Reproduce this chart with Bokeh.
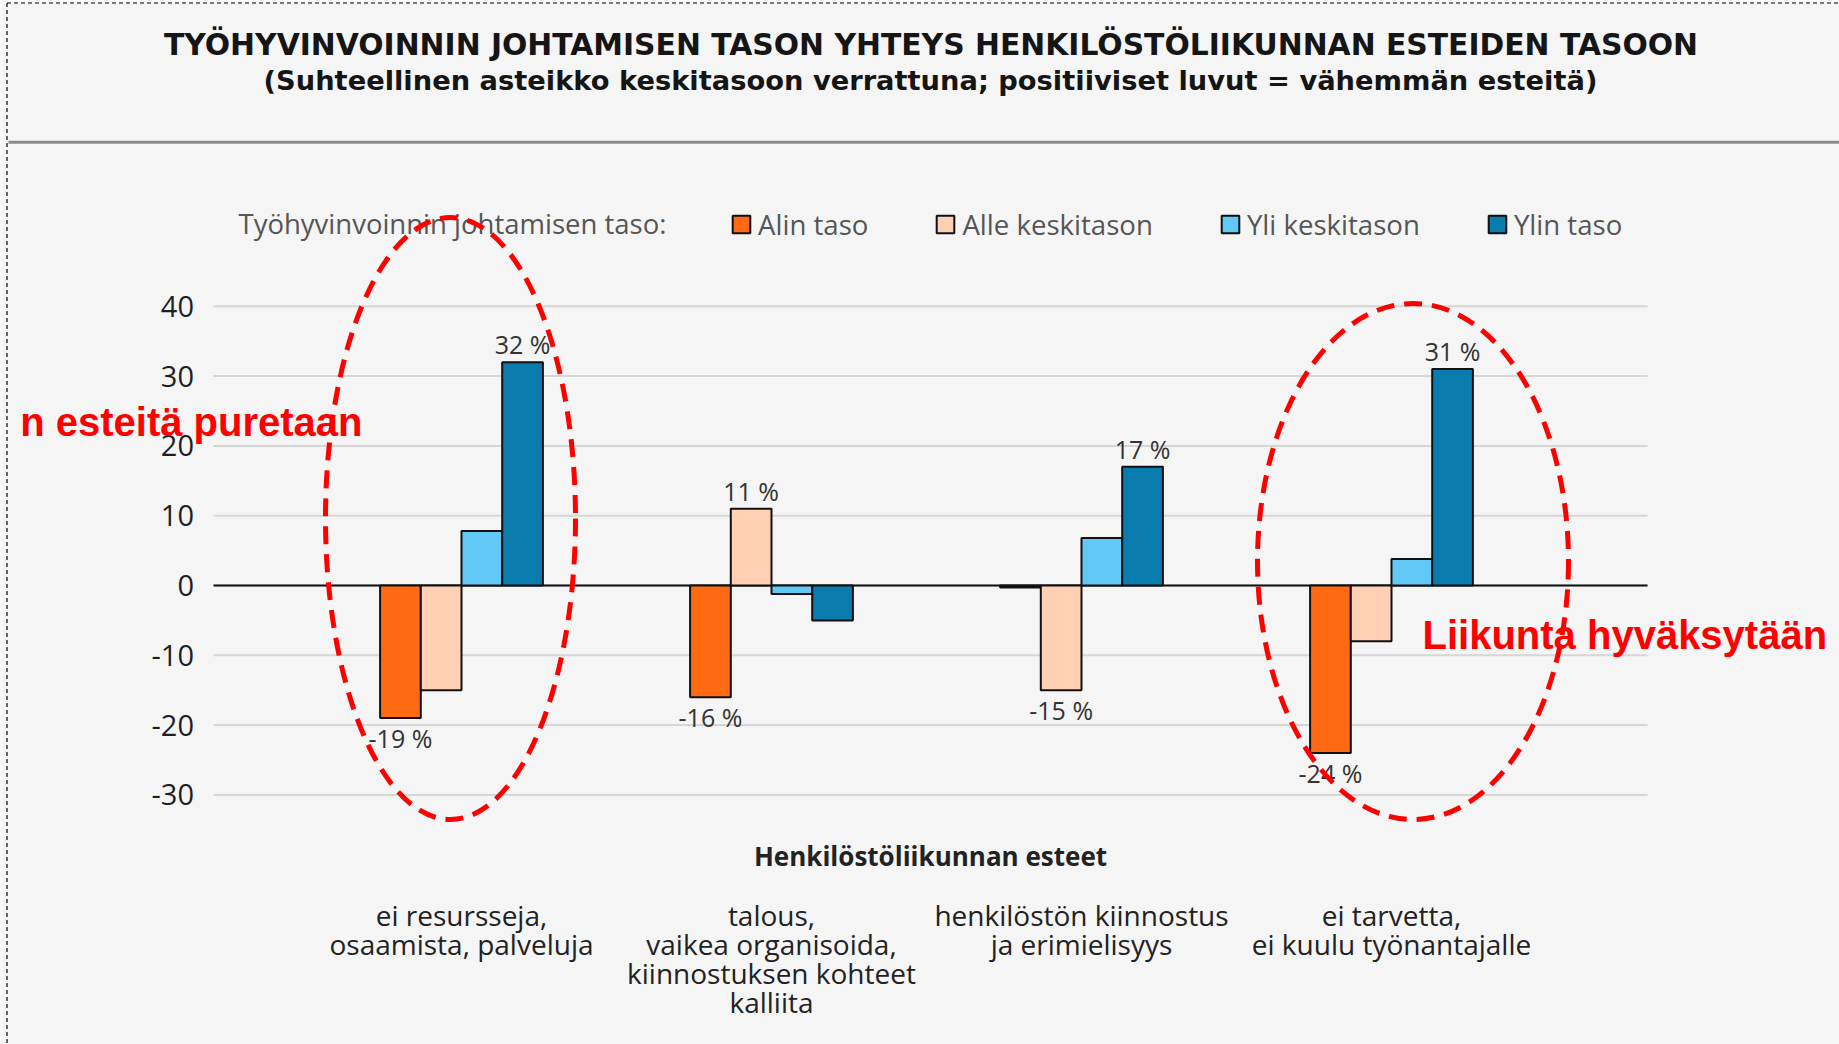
from bokeh.plotting import figure
from bokeh.models import Range1d, Legend, LegendItem, ColumnDataSource
from bokeh.embed import file_html
from bokeh.resources import INLINE
from bokeh.core.properties import value

# ---------------- data ----------------
categories = [
    "ei resursseja,\nosaamista, palveluja",
    "talous,\nvaikea organisoida,\nkiinnostuksen kohteet\nkalliita",
    "henkilöstön kiinnostus\nja erimielisyys",
    "ei tarvetta,\nei kuulu työnantajalle",
]
series_names = ["Alin taso", "Alle keskitason", "Yli keskitason", "Ylin taso"]
alin = [-19, -16, -0.3, -24]
alle = [-15, 11, -15, -8]
yli = [7.8, -1.2, 6.8, 3.8]
ylin = [32, -5, 17, 31]
y_ticks = [-30, -20, -10, 0, 10, 20, 30, 40]
y_tick_labels = [str(t) for t in y_ticks]

title_1 = "TYÖHYVINVOINNIN JOHTAMISEN TASON YHTEYS HENKILÖSTÖLIIKUNNAN ESTEIDEN TASOON"
title_2 = "(Suhteellinen asteikko keskitasoon verrattuna; positiiviset luvut = vähemmän esteitä)"
legend_title = "Työhyvinvoinnin johtamisen taso:"
x_title = "Henkilöstöliikunnan esteet"
note_left = "n esteitä puretaan"
note_right = "Liikunta hyväksytään"

colors = ["#ff6a12", "#ffd0b4", "#62c8f5", "#0a7bad"]
BG = "#f5f5f5"
FONT = "Open Sans"

# ---------------- figure (frame = whole canvas) ----------------
W, H = 1839, 1044
X0_PX, X_SCALE = 461.0, 310.0      # pixel of category 0, pixels per category
Y0_PX, Y_SCALE = 585.0, 6.98       # pixel of value 0, pixels per unit


def fx(px):
    return (px - X0_PX) / X_SCALE


def fy(py):
    return (Y0_PX - py) / Y_SCALE


p = figure(width=W, height=H, output_backend="svg", toolbar_location=None,
           x_range=Range1d(fx(0), fx(W)), y_range=Range1d(fy(H), fy(0)),
           x_axis_type=None, y_axis_type=None,
           min_border=0, min_border_left=0, min_border_right=0,
           min_border_top=0, min_border_bottom=0)
p.background_fill_color = BG
p.border_fill_color = BG
p.outline_line_color = None
p.grid.visible = False

# value axis: grid lines and tick labels
plot_left, plot_right = fx(213), fx(1647)
n_t = len(y_ticks)
p.segment(x0=[plot_left] * n_t, x1=[plot_right] * n_t, y0=y_ticks, y1=y_ticks,
          line_color="#d6d6d6", line_width=2)
p.text(x=[fx(193.5)] * n_t, y=y_ticks, text=y_tick_labels, text_align="right",
       text_baseline="middle", text_font=value(FONT), text_font_size="29px",
       text_color="#1f1f1f")
p.segment(x0=[plot_left], x1=[plot_right], y0=[0], y1=[0], line_color="#111111", line_width=2)

# ---------------- bars ----------------
bar_w = 0.1313
series = [alin, alle, yli, ylin]
n = len(categories)
renderers = []
for i, vals in enumerate(series):
    xs = [k + (i - 1.5) * bar_w for k in range(n)]
    src = ColumnDataSource(dict(x=xs, top=vals))
    r = p.vbar(x="x", top="top", bottom=0, width=bar_w, source=src,
               fill_color=colors[i], line_color="#111111", line_width=2)
    renderers.append(r)

# value labels: highest and lowest bar of each group
hi_x, hi_y, hi_t, lo_x, lo_y, lo_t = [], [], [], [], [], []
for k in range(n):
    vals = [s[k] for s in series]
    imax = max(range(4), key=lambda i: vals[i])
    imin = min(range(4), key=lambda i: vals[i])
    hi_x.append(k + (imax - 1.5) * bar_w); hi_y.append(vals[imax]); hi_t.append(f"{round(vals[imax])} %")
    lo_x.append(k + (imin - 1.5) * bar_w); lo_y.append(vals[imin]); lo_t.append(f"{round(vals[imin])} %")
p.text(x=hi_x, y=hi_y, text=hi_t, text_align="center", text_baseline="middle",
       y_offset=-18, text_font=value(FONT), text_font_size="25px", text_color="#333333")
p.text(x=lo_x, y=lo_y, text=lo_t, text_align="center", text_baseline="top",
       y_offset=3, text_font=value(FONT), text_font_size="25px", text_color="#333333")

# category labels and axis title
p.text(x=list(range(n)), y=[fy(895)] * n, text=categories, text_align="center",
       text_baseline="top", text_font=value(FONT), text_font_size="28px",
       text_color="#222222", text_line_height=0.77)
p.text(x=[fx(930)], y=[fy(855)], text=[x_title], text_align="center", text_baseline="middle",
       text_font=value(FONT), text_font_style="bold", text_font_size="26px",
       text_color="#222222")

# legend
p.text(x=[fx(238)], y=[fy(223)], text=[legend_title], text_align="left", text_baseline="middle",
       text_font=value(FONT), text_font_size="27.5px", text_color="#555555")
legend = Legend(items=[LegendItem(label=series_names[i], renderers=[renderers[i]]) for i in range(4)],
                orientation="horizontal", location=(730, 801), padding=0, margin=0,
                spacing=66, label_standoff=6, glyph_width=22, glyph_height=22,
                label_text_font=FONT, label_text_font_size="27.6px", label_text_color="#555555",
                border_line_color=None, background_fill_alpha=0)
p.add_layout(legend)

# titles and header rule
p.text(x=[fx(930.5)], y=[fy(43.5)], text=[title_1], text_align="center", text_baseline="middle",
       text_font=value("DejaVu Sans"), text_font_style="bold", text_font_size="29.8px",
       text_color="#151515")
p.text(x=[fx(930)], y=[fy(79.5)], text=[title_2], text_align="center", text_baseline="middle",
       text_font=value("DejaVu Sans"), text_font_style="bold", text_font_size="27.3px",
       text_color="#151515")
p.segment(x0=[fx(8)], x1=[fx(W)], y0=[fy(141.7)], y1=[fy(141.7)],
          line_color="#8c8c8c", line_width=3)

# dashed page border (top and left)
p.segment(x0=[fx(6.5), fx(6.5)], x1=[fx(W), fx(6.5)], y0=[fy(2.5), fy(2.5)], y1=[fy(2.5), fy(H)],
          line_color="#000000", line_width=1.2, line_dash="4 3")

# red highlight ellipses and notes
p.ellipse(x=[fx(450), fx(1412.5)], y=[fy(518), fy(561)],
          width=[250 / X_SCALE, 311 / X_SCALE], height=[602 / Y_SCALE, 516 / Y_SCALE],
          fill_color=None, line_color="#ff0000", line_width=5, line_dash="18 10")
p.text(x=[fx(362)], y=[fy(421)], text=[note_left], text_align="right", text_baseline="middle",
       text_font=value("Liberation Sans"), text_font_style="bold", text_font_size="40px",
       text_color="#ff0000")
p.text(x=[fx(1422)], y=[fy(634)], text=[note_right], text_align="left", text_baseline="middle",
       text_font=value("Liberation Sans"), text_font_style="bold", text_font_size="40px",
       text_color="#ff0000")

open("out.html", "w").write(file_html(p, INLINE))
